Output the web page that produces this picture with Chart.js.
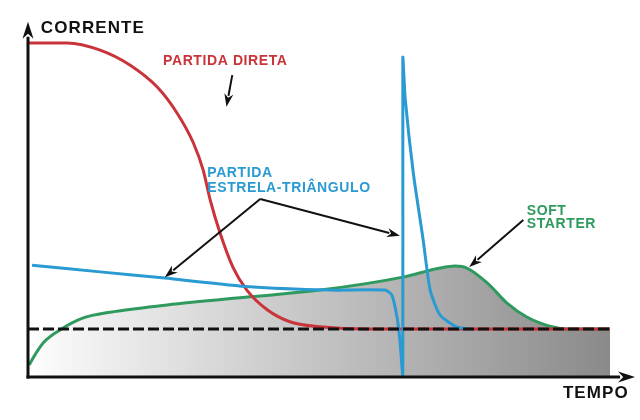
<!DOCTYPE html>
<html>
<head>
<meta charset="utf-8">
<script src="https://cdn.jsdelivr.net/npm/chart.js@4.4.1/dist/chart.umd.min.js"></script>
<style>
  html, body { margin: 0; padding: 0; background: #ffffff; }
  #wrap { width: 640px; height: 420px; }
</style>
</head>
<body>
<div id="wrap"><canvas id="chart" width="640" height="420"></canvas></div>
<script>
// Time in arbitrary units (0 = start, 100 = end of the shaded band),
// current in multiples of the rated current (1 = dashed line).
const redTime = [0, 6.7, 12.4, 17.5, 22.2, 25.6, 28.4, 30.1, 31.3, 33.0, 35.2, 37.6, 41.1, 45.0, 50.7, 58.2, 100];
const redCurrent = [6.96, 6.96, 6.81, 6.50, 6.04, 5.50, 4.88, 4.31, 3.69, 3.0, 2.29, 1.81, 1.40, 1.15, 1.04, 1.0, 1.0];

const blueTime = [0.7, 12.4, 23.5, 38.1, 51.9, 61.3, 62.5, 63.4, 63.9, 64.4, 64.4, 64.8, 66.2, 67.9, 69.1, 70.8, 73.7, 76.0];
const blueCurrent = [2.33, 2.19, 2.06, 1.88, 1.81, 1.81, 1.71, 1.25, 0.77, 0.04, 6.65, 5.81, 4.25, 2.85, 1.81, 1.29, 1.04, 1.0];

const greenTime = [0.2, 1.2, 2.6, 5.5, 9.5, 14.1, 23.9, 38.1, 50.2, 64.4, 70.8, 73.4, 75.4, 78.9, 82.3, 85.7, 90.2, 92.6, 100];
const greenCurrent = [0.25, 0.46, 0.71, 0.98, 1.23, 1.35, 1.50, 1.67, 1.81, 2.08, 2.27, 2.31, 2.27, 1.96, 1.54, 1.25, 1.04, 1.0, 1.0];

const ratedCurrent = 1;
const bandEnd = 100;

const RED = '#c9333a';
const BLUE = '#2a9ad2';
const GREEN = '#2f9a5e';

function points(xs, ys) {
    return xs.map((x, i) => ({ x, y: ys[i] }));
}

function bandGradient(chart) {
    const { ctx, scales } = chart;
    const x0 = scales.x.getPixelForValue(0);
    const x1 = scales.x.getPixelForValue(bandEnd);
    const g = ctx.createLinearGradient(x0, 0, x1, 0);
    g.addColorStop(0, '#ffffff');
    g.addColorStop(0.06, '#f6f6f6');
    g.addColorStop(1, '#8a8a8a');
    return g;
}

function arrow(ctx, x1, y1, x2, y2, len, half) {
    const a = Math.atan2(y2 - y1, x2 - x1);
    const bx = x2 - Math.cos(a) * len;
    const by = y2 - Math.sin(a) * len;
    ctx.beginPath();
    ctx.moveTo(x1, y1);
    ctx.lineTo(bx + Math.cos(a) * 2, by + Math.sin(a) * 2);
    ctx.stroke();
    ctx.beginPath();
    ctx.moveTo(x2, y2);
    ctx.lineTo(bx + Math.cos(a + Math.PI / 2) * half, by + Math.sin(a + Math.PI / 2) * half);
    ctx.lineTo(bx + Math.cos(a) * len * 0.3, by + Math.sin(a) * len * 0.3);
    ctx.lineTo(bx - Math.cos(a + Math.PI / 2) * half, by - Math.sin(a + Math.PI / 2) * half);
    ctx.closePath();
    ctx.fill();
}

const diagram = {
    id: 'diagram',
    beforeDatasetsDraw(chart) {
        const { ctx, scales } = chart;
        const x0 = scales.x.getPixelForValue(0);
        const x1 = scales.x.getPixelForValue(bandEnd);
        const yTop = scales.y.getPixelForValue(ratedCurrent);
        const yBot = scales.y.getPixelForValue(0);
        ctx.save();
        ctx.fillStyle = bandGradient(chart);
        ctx.fillRect(x0, yTop, x1 - x0, yBot - yTop);
        ctx.restore();
    },
    afterDatasetsDraw(chart) {
        const { ctx, scales } = chart;
        const px = (t) => scales.x.getPixelForValue(t);
        const py = (c) => scales.y.getPixelForValue(c);
        ctx.save();

        // rated current, dashed
        ctx.strokeStyle = '#111111';
        ctx.lineWidth = 3;
        ctx.setLineDash([11, 4]);
        ctx.beginPath();
        ctx.moveTo(px(0), py(ratedCurrent));
        ctx.lineTo(px(bandEnd), py(ratedCurrent));
        ctx.stroke();
        ctx.setLineDash([]);

        // axes
        ctx.fillStyle = '#111111';
        ctx.lineWidth = 3;
        arrow(ctx, px(0), py(0) + 1.5, px(0), py(7.4), 17, 5.5);
        arrow(ctx, px(0) - 1.5, py(0), px(104.3), py(0), 17, 5.5);

        // callout arrows
        ctx.lineWidth = 2;
        arrow(ctx, px(35.1), py(6.29), px(34.1), py(5.63), 13, 4.5);
        arrow(ctx, px(39.9), py(3.71), px(23.5), py(2.08), 13, 4.5);
        arrow(ctx, px(39.9), py(3.71), px(63.9), py(2.94), 13, 4.5);
        arrow(ctx, px(85.1), py(3.27), px(75.8), py(2.29), 13, 4.5);

        // labels
        ctx.textBaseline = 'middle';
        ctx.textAlign = 'left';
        ctx.font = 'bold 17px "Liberation Sans", Arial, sans-serif';
        ctx.letterSpacing = '1.1px';
        ctx.fillStyle = '#111111';
        ctx.fillText('CORRENTE', px(2.2), py(7.27));
        ctx.fillText('TEMPO', px(91.9), py(-0.33));

        ctx.font = 'bold 14px "Liberation Sans", Arial, sans-serif';
        ctx.letterSpacing = '0.6px';
        ctx.fillStyle = RED;
        ctx.fillText('PARTIDA DIRETA', px(23.2), py(6.58));
        ctx.fillStyle = BLUE;
        ctx.fillText('PARTIDA', px(30.8), py(4.25));
        ctx.fillText('ESTRELA-TRIÂNGULO', px(30.8), py(3.94));
        ctx.fillStyle = GREEN;
        ctx.fillText('SOFT', px(85.7), py(3.46));
        ctx.fillText('STARTER', px(85.7), py(3.19));
        ctx.restore();
    },
};

new Chart(document.getElementById('chart'), {
    type: 'scatter',
    data: {
        datasets: [
            {
                label: 'Soft starter',
                data: points(greenTime, greenCurrent),
                showLine: true,
                order: 3,
                borderColor: GREEN,
                borderWidth: 3,
                pointRadius: 0,
                cubicInterpolationMode: 'monotone',
                fill: {
                    target: { value: ratedCurrent },
                    above: (ctx) => bandGradient(ctx.chart),
                    below: 'rgba(0,0,0,0)',
                },
            },
            {
                label: 'Partida direta',
                data: points(redTime, redCurrent),
                showLine: true,
                order: 2,
                borderColor: RED,
                borderWidth: 3,
                pointRadius: 0,
                cubicInterpolationMode: 'monotone',
            },
            {
                label: 'Partida estrela-triângulo',
                data: points(blueTime, blueCurrent),
                showLine: true,
                order: 1,
                borderColor: BLUE,
                borderWidth: 3,
                pointRadius: 0,
                tension: 0.2,
            },
        ],
    },
    options: {
        responsive: false,
        animation: false,
        layout: { padding: 0 },
        scales: {
            x: { type: 'linear', min: -4.81, max: 105.15, display: false },
            y: { type: 'linear', min: -0.896, max: 7.854, display: false },
        },
        plugins: {
            legend: { display: false },
            tooltip: { enabled: false },
        },
    },
    plugins: [diagram],
});
</script>
</body>
</html>
